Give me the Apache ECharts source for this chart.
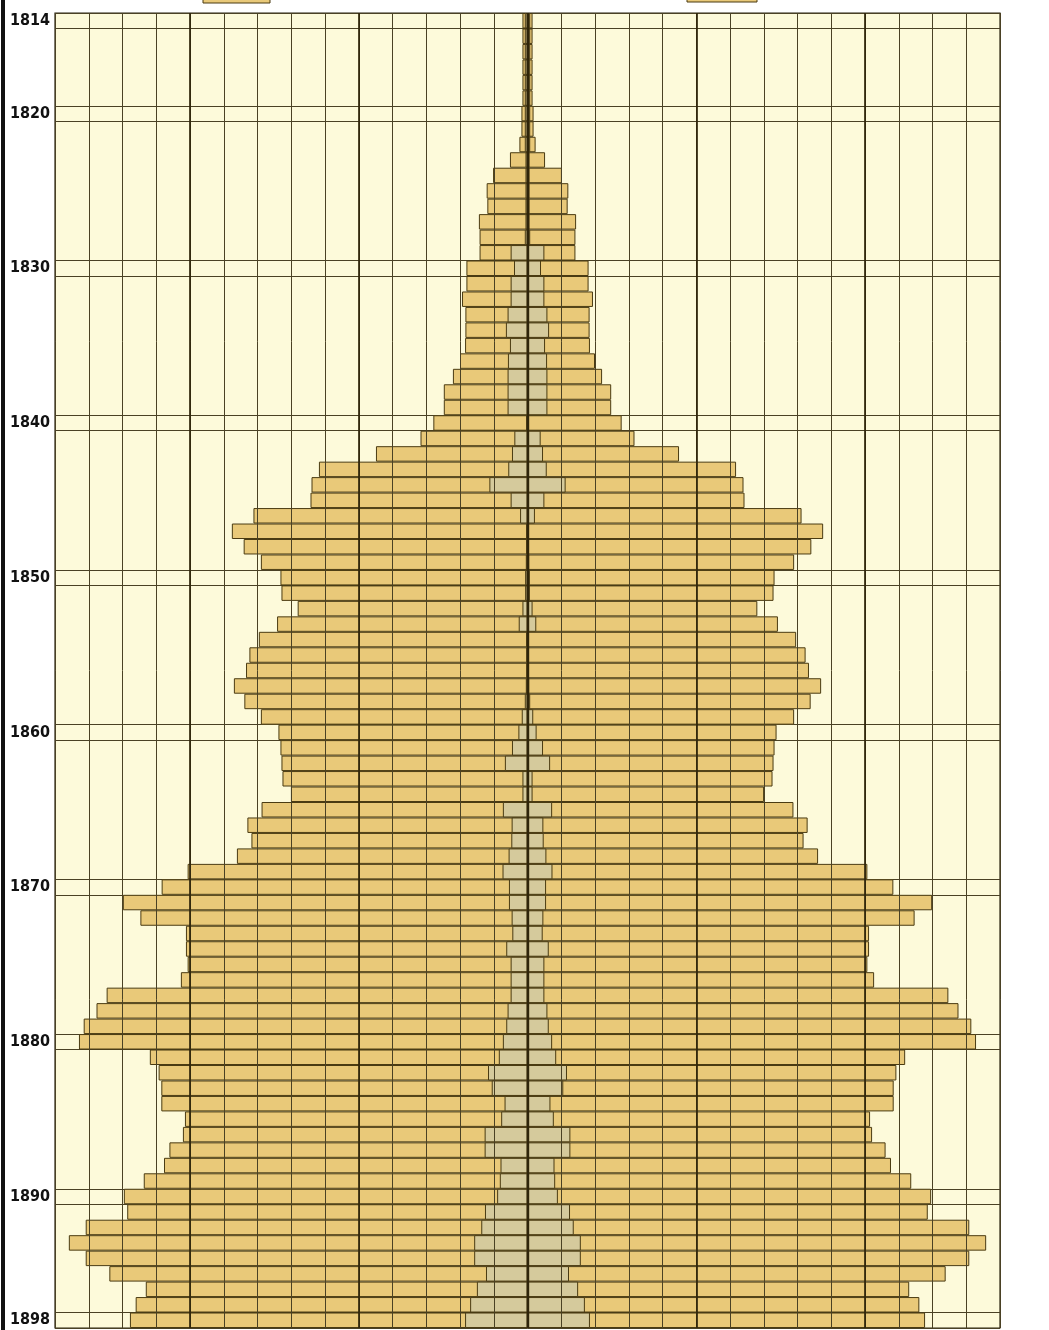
<!DOCTYPE html>
<html><head><meta charset="utf-8">
<script src="https://cdn.jsdelivr.net/npm/echarts@6/dist/echarts.min.js"></script>
<style>html,body{margin:0;padding:0;background:#ffffff;} #c{width:1049px;height:1330px;}</style>
</head><body><div id="c"></div>
<script>
// Years, one row each (top to bottom)
const years = [1814,1815,1816,1817,1818,1819,
  1820,1821,1822,1823,1824,1825,1826,1827,1828,1829,
  1830,1831,1832,1833,1834,1835,1836,1837,1838,1839,
  1840,1841,1842,1843,1844,1845,1846,1847,1848,1849,
  1850,1851,1852,1853,1854,1855,1856,1857,1858,1859,
  1860,1861,1862,1863,1864,1865,1866,1867,1868,1869,
  1870,1871,1872,1873,1874,1875,1876,1877,1878,1879,
  1880,1881,1882,1883,1884,1885,1886,1887,1888,1889,
  1890,1891,1892,1893,1894,1895,1896,1897,1898];
// Half-width of the outer (yellow) figure, in grid divisions, each side of the axis
const outerHalf = [0.15,0.15,0.15,0.15,0.15,0.15,
  0.18,0.18,0.24,0.52,1.02,1.21,1.19,1.44,1.42,1.42,
  1.81,1.81,1.94,1.84,1.84,1.85,2.0,2.21,2.48,2.48,
  2.79,3.17,4.49,6.18,6.4,6.43,8.12,8.76,8.41,7.9,
  7.32,7.29,6.81,7.42,7.96,8.24,8.34,8.7,8.39,7.9,
  7.38,7.32,7.29,7.26,7.01,7.88,8.3,8.18,8.61,10.07,
  10.84,11.99,11.47,10.12,10.12,10.07,10.27,12.47,12.77,13.15,
  13.29,11.19,10.93,10.85,10.85,10.15,10.21,10.61,10.77,11.37,
  11.96,11.86,13.09,13.59,13.09,12.39,11.31,11.61,11.78];
// Half-width of the inner (grey) figure
const innerHalf = [0.08,0.08,0.08,0.08,0.08,0.08,
  0.08,0.08,0.08,0.06,0.06,0.06,0.06,0.06,0.08,0.5,
  0.4,0.5,0.5,0.59,0.64,0.52,0.58,0.59,0.59,0.59,
  0.04,0.39,0.46,0.57,1.13,0.5,0.22,0.04,0.04,0.05,
  0.07,0.07,0.15,0.26,0.04,0.03,0.03,0.05,0.08,0.17,
  0.27,0.46,0.67,0.15,0.15,0.73,0.47,0.48,0.56,0.74,
  0.55,0.55,0.47,0.45,0.63,0.5,0.5,0.5,0.59,0.63,
  0.73,0.85,1.17,1.06,0.68,0.78,1.27,1.27,0.8,0.82,
  0.9,1.26,1.37,1.58,1.58,1.23,1.5,1.7,1.85];
const tickYears = [1814,1820,1830,1840,1850,1860,1870,1880,1890,1898];
const heavyLines = [-10,-5,0,5,10];

const YEL = '#E9C979', GRY = '#D5CA9C', EDGE = '#4a3b12', GRID = '#4a4124', BG = '#FDFADA';

const tickIdx = new Set(tickYears.map(y => years.indexOf(y)));
const lineIdx = new Set();
tickYears.forEach(y => { const i = years.indexOf(y); lineIdx.add(i); lineIdx.add(i + 1); });

const barBase = {type: 'bar', barGap: '-100%', barCategoryGap: 0, silent: true};
const chart = echarts.init(document.getElementById('c'), null, {renderer: 'canvas'});
chart.setOption({
  animation: false,
  backgroundColor: '#ffffff',
  grid: {left: 55, top: 13, width: 945, height: 1315, show: true,
         backgroundColor: BG, borderColor: '#2a2410', borderWidth: 1.2},
  xAxis: {type: 'value', min: -14, max: 14, interval: 1, z: 5,
          axisLabel: {show: false}, axisTick: {show: false}, axisLine: {show: false},
          splitLine: {show: true, lineStyle: {color: GRID, width: 1}}},
  yAxis: {type: 'category', data: years, inverse: true,
          axisLine: {show: false}, axisTick: {show: false},
          axisLabel: {interval: (i) => tickIdx.has(i), margin: 5,
                      fontFamily: '"DejaVu Sans Condensed", "DejaVu Sans", sans-serif',
                      fontWeight: 'bold', fontSize: 16, color: '#111'},
          splitLine: {show: true, interval: (i) => lineIdx.has(i),
                      lineStyle: {color: GRID, width: 1}}},
  series: [
    Object.assign({}, barBase, {name: 'outerL', data: outerHalf.map(v => -v),
      itemStyle: {color: YEL, borderColor: EDGE, borderWidth: 1}}),
    Object.assign({}, barBase, {name: 'outerR', data: outerHalf,
      itemStyle: {color: YEL, borderColor: EDGE, borderWidth: 1}}),
    Object.assign({}, barBase, {name: 'innerL', data: innerHalf.map(v => -v),
      itemStyle: {color: GRY, borderColor: EDGE, borderWidth: 1}}),
    Object.assign({}, barBase, {name: 'innerR', data: innerHalf,
      itemStyle: {color: GRY, borderColor: EDGE, borderWidth: 1},
      markLine: {silent: true, symbol: ['none', 'none'], label: {show: false}, z: 6,
        lineStyle: {color: '#2f250a', type: 'solid', width: 1.6},
        data: heavyLines.map(v => ({xAxis: v, lineStyle: {width: v === 0 ? 2.4 : 1.7}}))}})
  ],
  graphic: [
    {type: 'rect', shape: {x: 1, y: 0, width: 4, height: 1330}, style: {fill: '#111'}},
    {type: 'rect', shape: {x: 203, y: -6, width: 67, height: 9}, style: {fill: YEL, stroke: EDGE, lineWidth: 1}},
    {type: 'rect', shape: {x: 687, y: -6, width: 70, height: 8}, style: {fill: YEL, stroke: EDGE, lineWidth: 1}}
  ]
});
</script></body></html>
